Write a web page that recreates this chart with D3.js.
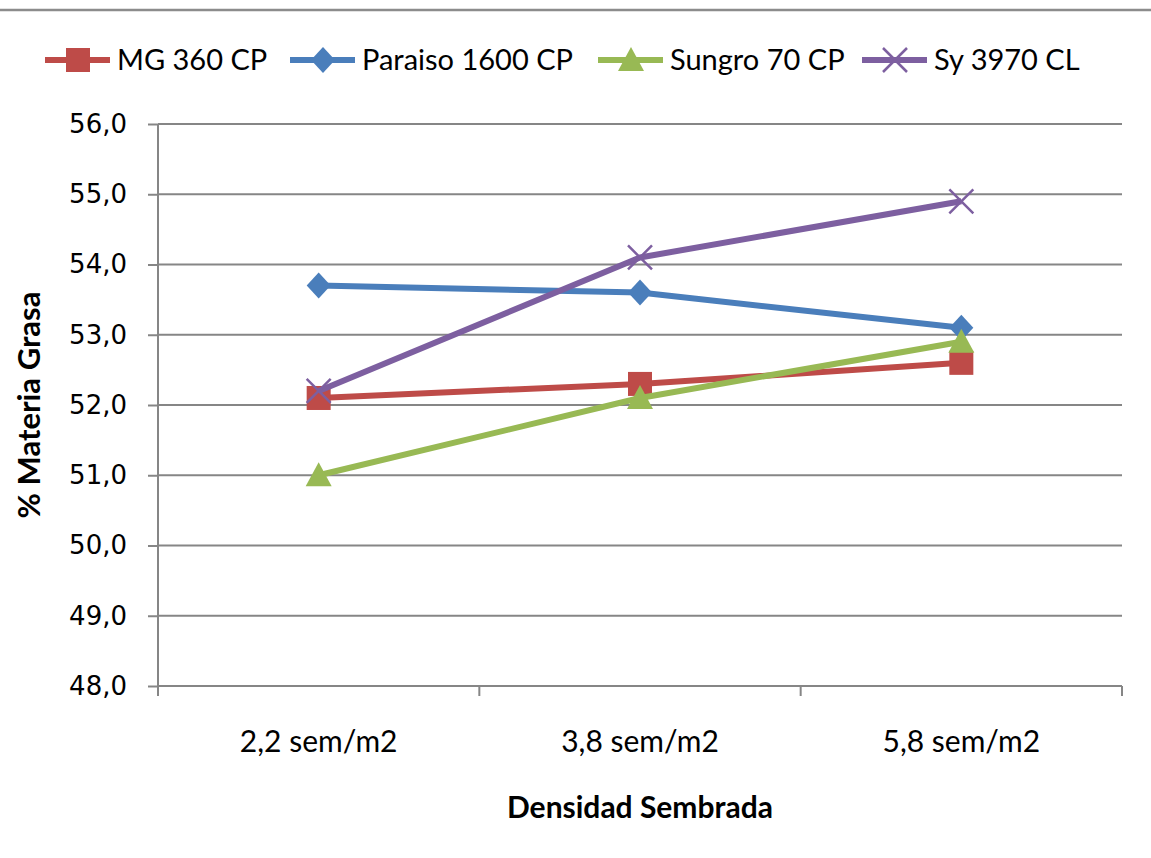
<!DOCTYPE html>
<html><head><meta charset="utf-8">
<script src="https://cdn.jsdelivr.net/npm/d3@7"></script>
<style>body{margin:0;background:#fff}svg{display:block}</style>
</head><body>
<svg id="c" width="1151" height="858"></svg>
<script>
const categories = ["2,2 sem/m2", "3,8 sem/m2", "5,8 sem/m2"];
const seriesNames = ["MG 360 CP", "Paraiso 1600 CP", "Sungro 70 CP", "Sy 3970 CL"];
const mg360 = [52.1, 52.3, 52.6];
const paraiso1600 = [53.7, 53.6, 53.1];
const sungro70 = [51.0, 52.1, 52.9];
const sy3970 = [52.2, 54.1, 54.9];
const yTicks = [48, 49, 50, 51, 52, 53, 54, 55, 56];
const colors = ["#BE4B48", "#4A7EBB", "#98B954", "#7D5FA0"];
const markers = ["square", "diamond", "triangle", "x"];
const seriesValues = [mg360, paraiso1600, sungro70, sy3970];

const svg = d3.select("#c");
const L = 158, R = 1122, T = 124, B = 686;
const narrow = "'Liberation Sans Narrow', 'Arial Narrow', Lato, sans-serif";

svg.append("line").attr("x1",0).attr("x2",1151).attr("y1",10).attr("y2",10)
  .attr("stroke","#8c8c8c").attr("stroke-width",2.5);

const x = d3.scaleBand().domain(categories).range([L, R]);
const y = d3.scaleLinear().domain([48, 56]).range([B, T]);

// gridlines
svg.append("g").selectAll("line").data(yTicks.filter(d=>d>48)).join("line")
  .attr("x1",L).attr("x2",R).attr("y1",d=>y(d)).attr("y2",d=>y(d))
  .attr("stroke","#868686").attr("stroke-width",2);

// y axis
const ya = svg.append("g").attr("transform",`translate(${L},0)`)
  .call(d3.axisLeft(y).tickValues(yTicks).tickSize(10).tickPadding(21)
    .tickFormat(d=>d3.format(".1f")(d).replace(".",",")));
ya.select(".domain").attr("stroke","#868686").attr("stroke-width",2).attr("d",`M0,${T}V${B}`);
ya.selectAll(".tick line").attr("stroke","#868686").attr("stroke-width",2);
ya.selectAll(".tick text").attr("font-family","'DejaVu Sans', sans-serif").attr("font-size",26).attr("fill","#000");

// x axis
const xa = svg.append("g").attr("transform",`translate(0,${B})`)
  .call(d3.axisBottom(x).tickSize(0).tickPadding(45));
xa.select(".domain").attr("stroke","#868686").attr("stroke-width",2).attr("d",`M${L},0H${R}`);
xa.selectAll(".tick text").attr("font-family",narrow).attr("font-size",30).attr("fill","#000");
const xb = [L, ...categories.map(c=>x(c)+x.bandwidth())];
svg.append("g").selectAll("line").data(xb).join("line")
  .attr("x1",d=>d).attr("x2",d=>d).attr("y1",B).attr("y2",B+10)
  .attr("stroke","#868686").attr("stroke-width",2);

// axis titles
svg.append("text").attr("x",640).attr("y",818).attr("text-anchor","middle")
  .attr("font-family",narrow).attr("font-weight","bold").attr("font-size",30).text("Densidad Sembrada");
svg.append("text").attr("transform","translate(40,405) rotate(-90)").attr("text-anchor","middle")
  .attr("font-family",narrow).attr("font-weight","bold").attr("font-size",31).text("% Materia Grasa");

function drawMarker(g, type, cx, cy, color){
  if(type==="square") g.append("rect").attr("x",cx-12).attr("y",cy-12).attr("width",24).attr("height",24).attr("fill",color);
  else if(type==="diamond") g.append("path").attr("d",`M${cx},${cy-13}L${cx+12},${cy}L${cx},${cy+13}L${cx-12},${cy}Z`).attr("fill",color);
  else if(type==="triangle") g.append("path").attr("d",`M${cx},${cy-13}L${cx+13},${cy+11}L${cx-13},${cy+11}Z`).attr("fill",color);
  else if(type==="x") g.append("path").attr("d",`M${cx-12},${cy-12}L${cx+12},${cy+12}M${cx+12},${cy-12}L${cx-12},${cy+12}`).attr("stroke",color).attr("stroke-width",2.5).attr("fill","none");
}

const cx = c => x(c) + x.bandwidth()/2;
const line = d3.line().x((d,i)=>cx(categories[i])).y(d=>y(d));
seriesValues.forEach((vals,s)=>{
  const g = svg.append("g");
  g.append("path").attr("d",line(vals)).attr("fill","none").attr("stroke",colors[s]).attr("stroke-width",6).attr("stroke-linejoin","round");
  vals.forEach((v,i)=>drawMarker(g, markers[s], cx(categories[i]), y(v), colors[s]));
});

// legend
const legX = [45, 290, 598, 862];
seriesNames.forEach((n,s)=>{
  const g = svg.append("g");
  const lx = legX[s], ly = 60;
  g.append("line").attr("x1",lx).attr("x2",lx+65).attr("y1",ly).attr("y2",ly).attr("stroke",colors[s]).attr("stroke-width",6);
  drawMarker(g, markers[s], lx+33, ly, colors[s]);
  g.append("text").attr("x",lx+72).attr("y",ly+10).attr("font-family",narrow).attr("font-size",29).text(n);
});
</script>
</body></html>
